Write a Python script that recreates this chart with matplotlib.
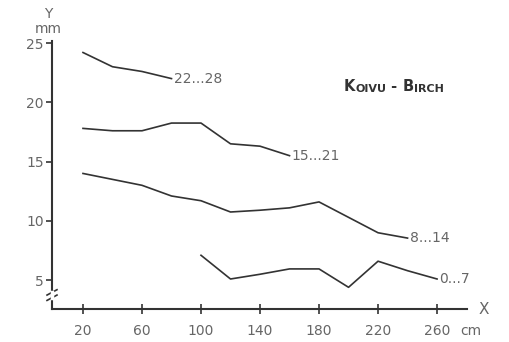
import matplotlib
matplotlib.use("Agg")
import matplotlib.pyplot as plt

# diameter classes (cm) and mean values per class
x_a = [20, 40, 60, 80]
y_a = [24.2, 23.0, 22.6, 22.0]
x_b = [20, 40, 60, 80, 100, 120, 140, 160]
y_b = [17.8, 17.6, 17.6, 18.25, 18.25, 16.5, 16.3, 15.5]
x_c = [20, 40, 60, 80, 100, 120, 140, 160, 180, 200, 220, 240]
y_c = [14.0, 13.5, 13.0, 12.1, 11.7, 10.75, 10.9, 11.1, 11.6, 10.3, 9.0, 8.55]
x_d = [100, 120, 140, 160, 180, 200, 220, 240, 260]
y_d = [7.1, 5.1, 5.5, 5.95, 5.95, 4.4, 6.6, 5.8, 5.1]

series = [(x_a, y_a, "22...28"), (x_b, y_b, "15...21"),
          (x_c, y_c, "8...14"), (x_d, y_d, "0...7")]
xticks = [20, 60, 100, 140, 180, 220, 260]
yticks = [5, 10, 15, 20, 25]

ink = "#333333"
grey = "#666666"

fig = plt.figure(figsize=(5.09, 3.42), dpi=100)
ax = fig.add_axes([52/509, 1-309/342, (467-52)/509, (309-41)/342])
ax.set_xlim(-1, 280.3)
ax.set_ylim(2.57, 25.17)

for xs, ys, lab in series:
    ax.plot(xs, ys, color=ink, lw=1.2)
    ax.annotate(lab, (xs[-1], ys[-1]), xytext=(1.5, 0), textcoords="offset points",
                ha="left", va="center", fontsize=10, color=grey)

ax.spines["top"].set_visible(False)
ax.spines["right"].set_visible(False)
for s in ("left", "bottom"):
    ax.spines[s].set_color(ink)
    ax.spines[s].set_linewidth(1.5)

ax.set_xticks(xticks)
ax.set_yticks(yticks)
ax.tick_params(axis="x", direction="inout", length=7, width=1.2, colors=ink,
               labelcolor=grey, labelsize=10, pad=7.5)
ax.tick_params(axis="y", direction="out", length=4, width=1.2, colors=ink,
               labelcolor=grey, labelsize=10, pad=2)

# axis break on the y axis
d = dict(transform=ax.transAxes, color=ink, lw=1.2, clip_on=False)
ax.plot([-0.012, 0.012], [0.032, 0.052], **d)
ax.plot([-0.012, 0.012], [0.052, 0.072], **d)
ax.plot([0, 0], [0.04, 0.064], transform=ax.transAxes, color="white", lw=2.5,
        clip_on=False, zorder=5)

# axis names
fig.text(48/509, 1-14/342, "Y", ha="center", va="center", fontsize=10, color=grey)
fig.text(48/509, 1-29/342, "mm", ha="center", va="center", fontsize=10, color=grey)
fig.text(484/509, 1-309/342, "X", ha="center", va="center", fontsize=11, color=grey)
fig.text(471/509, 1-331/342, "cm", ha="center", va="center", fontsize=10, color=grey)

# title in small caps
parts = [("K", 10.5), ("OIVU", 8), (" - ", 10.5), ("B", 10.5), ("IRCH", 8)]
prev = ax.text(344/509, 1-94/342, parts[0][0], transform=fig.transFigure,
               fontsize=parts[0][1], fontweight="bold", color=ink,
               ha="left", va="bottom")
for txt, size in parts[1:]:
    prev = ax.annotate(txt, xy=(1, 0), xycoords=prev, ha="left", va="bottom",
                       fontsize=size, fontweight="bold", color=ink)

fig.savefig("out.png", dpi=100)
